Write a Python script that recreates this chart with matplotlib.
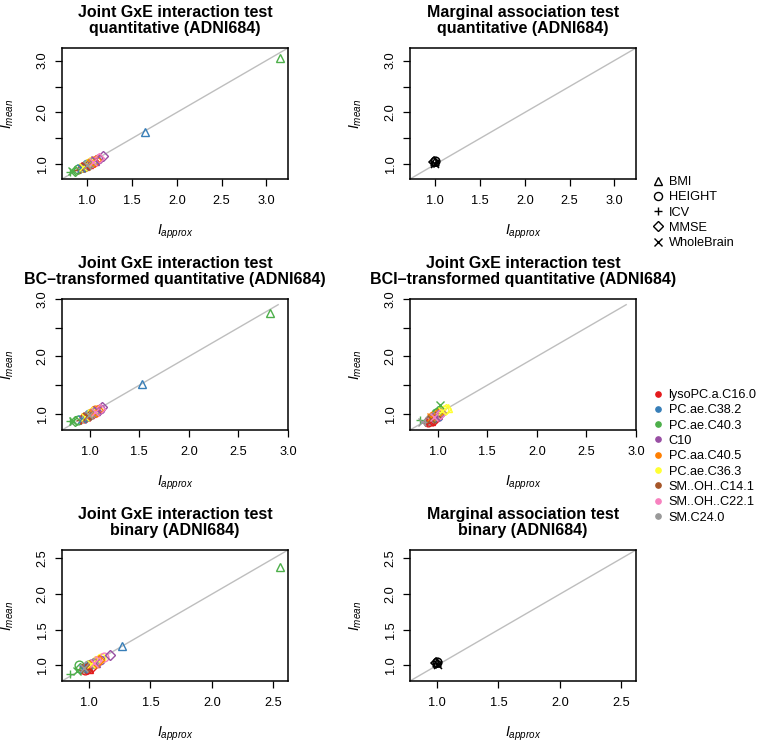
import numpy as np
import matplotlib
matplotlib.use('Agg')
import matplotlib.pyplot as plt
from matplotlib.lines import Line2D

plt.rcParams['font.family'] = ['Liberation Sans', 'DejaVu Sans']
plt.rcParams['mathtext.fontset'] = 'custom'
plt.rcParams['mathtext.rm'] = 'Liberation Sans'
plt.rcParams['mathtext.it'] = 'Liberation Sans:italic'

traits = ['BMI', 'HEIGHT', 'ICV', 'MMSE', 'WholeBrain']
trait_markers = ['^', 'o', '+', 'D', 'x']
metabolites = ['lysoPC.a.C16.0', 'PC.ae.C38.2', 'PC.ae.C40.3', 'C10', 'PC.aa.C40.5',
               'PC.ae.C36.3', 'SM..OH..C14.1', 'SM..OH..C22.1', 'SM.C24.0']
met_colors = ['#E41A1C', '#377EB8', '#4DAF4A', '#984EA3', '#FF7F00',
              '#FFFF33', '#A65628', '#F781BF', '#999999']

# joint GxE, quantitative: rows = traits, columns = metabolites
quant_x = [[1.02, 1.64, 3.15, 1.08, 1.05, 0.98, 1.00, 1.03, 0.97],
           [0.95, 1.00, 0.90, 1.12, 1.06, 1.02, 0.96, 1.04, 0.99],
           [0.92, 0.97, 0.81, 1.05, 1.01, 0.94, 0.90, 0.99, 0.93],
           [1.07, 0.99, 0.86, 1.17, 1.10, 1.03, 1.02, 1.13, 1.05],
           [0.97, 0.93, 0.83, 1.09, 1.04, 0.95, 0.98, 1.06, 1.00]]
quant_y = [[1.01, 1.62, 3.05, 1.07, 1.05, 0.99, 1.00, 1.02, 0.97],
           [0.94, 1.00, 0.91, 1.11, 1.07, 1.02, 0.95, 1.04, 0.98],
           [0.90, 0.96, 0.86, 1.04, 1.02, 0.93, 0.89, 0.98, 0.92],
           [1.05, 0.98, 0.88, 1.16, 1.09, 1.04, 1.00, 1.12, 1.04],
           [0.96, 0.92, 0.87, 1.08, 1.03, 0.94, 0.97, 1.05, 0.99]]

# joint GxE, BC-transformed
bc_x = [[1.00, 1.53, 2.82, 1.06, 1.04, 0.97, 0.99, 1.02, 0.96],
        [0.94, 0.99, 0.88, 1.10, 1.05, 1.01, 0.95, 1.03, 0.98],
        [0.91, 0.96, 0.80, 1.03, 1.00, 0.93, 0.90, 0.98, 0.92],
        [1.05, 0.98, 0.85, 1.12, 1.08, 1.02, 1.01, 1.10, 1.04],
        [0.96, 0.92, 0.83, 1.07, 1.03, 0.95, 0.97, 1.05, 0.99]]
bc_y = [[0.99, 1.52, 2.75, 1.05, 1.04, 0.98, 0.99, 1.01, 0.96],
        [0.93, 0.99, 0.89, 1.09, 1.06, 1.01, 0.94, 1.03, 0.97],
        [0.89, 0.95, 0.88, 1.02, 1.01, 0.92, 0.89, 0.97, 0.91],
        [1.04, 0.97, 0.87, 1.12, 1.07, 1.03, 0.99, 1.09, 1.03],
        [0.95, 0.91, 0.88, 1.06, 1.02, 0.94, 0.96, 1.04, 0.98]]

# joint GxE, BCI-transformed
bci_x = [[0.93, 0.99, 1.02, 1.00, 0.98, 1.10, 0.95, 0.97, 0.94],
         [0.90, 0.96, 0.98, 0.97, 0.95, 1.06, 0.92, 0.99, 0.91],
         [0.88, 0.92, 0.82, 0.94, 0.96, 1.02, 0.89, 0.93, 0.87],
         [0.96, 1.01, 1.00, 1.03, 1.00, 1.08, 0.97, 1.02, 0.95],
         [0.91, 0.94, 1.02, 0.98, 0.93, 1.04, 0.93, 0.96, 0.84]]
bci_y = [[0.87, 0.97, 1.08, 0.98, 0.99, 1.10, 0.93, 0.95, 0.92],
         [0.86, 0.95, 1.02, 0.94, 0.97, 1.07, 0.90, 0.98, 0.90],
         [0.85, 0.90, 0.90, 0.91, 0.97, 1.04, 0.88, 0.92, 0.86],
         [0.90, 1.00, 1.05, 1.01, 1.02, 1.09, 0.95, 1.00, 0.94],
         [0.86, 0.93, 1.15, 0.95, 0.95, 1.05, 0.91, 0.94, 0.86]]

# joint GxE, binary
bin_x = [[1.00, 1.27, 2.55, 1.06, 1.05, 1.04, 0.99, 1.03, 0.98],
         [0.97, 1.02, 0.92, 1.09, 1.07, 1.10, 0.96, 1.12, 0.99],
         [0.99, 0.97, 0.85, 1.03, 1.01, 1.00, 0.94, 1.00, 0.95],
         [1.02, 1.00, 0.93, 1.17, 1.08, 1.05, 1.01, 1.06, 1.03],
         [1.00, 0.95, 0.90, 1.05, 1.03, 1.02, 0.97, 1.04, 0.96]]
bin_y = [[0.95, 1.27, 2.38, 1.04, 1.04, 1.05, 0.98, 1.03, 0.98],
         [0.93, 1.02, 1.00, 1.07, 1.06, 1.11, 0.96, 1.12, 1.00],
         [0.94, 0.97, 0.88, 1.02, 1.01, 1.01, 0.94, 1.00, 0.95],
         [0.97, 1.00, 0.96, 1.15, 1.07, 1.06, 1.00, 1.06, 1.03],
         [0.96, 0.95, 0.92, 1.04, 1.02, 1.02, 0.97, 1.03, 0.96]]

# marginal association: one value per trait
marg_quant_x = [1.00, 1.00, 1.01, 0.99, 1.00]
marg_quant_y = [1.04, 1.06, 1.02, 1.05, 1.00]
marg_bin_x = [1.00, 1.00, 1.00, 0.99, 1.01]
marg_bin_y = [1.03, 1.05, 1.02, 1.04, 1.01]

ticks_q = [1.0, 1.5, 2.0, 2.5, 3.0]
ylab_q = ['1.0', '', '2.0', '', '3.0']
ticks_b = [1.0, 1.5, 2.0, 2.5]
ylab_b = ['1.0', '1.5', '2.0', '2.5']

titles = ['Joint GxE interaction test\nquantitative (ADNI684)',
          'Marginal association test\nquantitative (ADNI684)',
          'Joint GxE interaction test\nBC\u2013transformed quantitative (ADNI684)',
          'Joint GxE interaction test\nBCI\u2013transformed quantitative (ADNI684)',
          'Joint GxE interaction test\nbinary (ADNI684)',
          'Marginal association test\nbinary (ADNI684)']

W, H = 760, 743
fig = plt.figure(figsize=(W / 100, H / 100), dpi=100)


def lims_of(xs, ys):
    vals = np.concatenate([np.ravel(xs), np.ravel(ys)])
    lo, hi = vals.min(), vals.max()
    pad = 0.04 * (hi - lo)
    return lo - pad, hi + pad


def make_axes(left, top, title, lims, ticks, ylabels):
    ax = fig.add_axes([left / W, 1 - (top + 131) / H, 226 / W, 131 / H])
    ax.set_xlim(lims)
    ax.set_ylim(lims)
    ax.plot(lims, lims, color='#BEBEBE', lw=1.0, zorder=1)
    ax.set_xticks(ticks)
    ax.set_xticklabels(['%.1f' % t for t in ticks])
    ax.set_yticks(ticks)
    ax.set_yticklabels(ylabels, rotation=90, va='center')
    ax.tick_params(direction='out', length=5.2, width=0.9, labelsize=9.2)
    ax.tick_params(axis='x', pad=6.5)
    ax.tick_params(axis='y', pad=4.5)
    for s in ax.spines.values():
        s.set_linewidth(1.1)
    ax.set_title(title, fontsize=11.5, fontweight='bold', pad=10.5, linespacing=1.1)
    ax.set_xlabel(r'$I_{approx}$', fontsize=10.2)
    ax.set_ylabel(r'$I_{mean}$', fontsize=10.2)
    ax.xaxis.set_label_coords(0.5, -0.33)
    ax.yaxis.set_label_coords(-0.205, 0.5)
    return ax


def draw_joint(ax, xs, ys):
    for i in range(len(traits)):
        for j in range(len(metabolites)):
            ax.plot(xs[i][j], ys[i][j], linestyle='none', marker=trait_markers[i],
                    ms=5.2 if trait_markers[i] == 'D' else 6.3, mfc='none',
                    mec=met_colors[j], mew=1.0, zorder=2)


def draw_marginal(ax, xs, ys):
    for i in range(len(traits)):
        ax.plot(xs[i], ys[i], linestyle='none', marker=trait_markers[i],
                ms=5.2 if trait_markers[i] == 'D' else 6.3, mfc='none',
                mec='black', mew=1.1, zorder=2)


lims_q = lims_of(quant_x, quant_y)
lims_bc = lims_of(bc_x, bc_y)
lims_b = lims_of(bin_x, bin_y)

ax1 = make_axes(62, 48, titles[0], lims_q, ticks_q, ylab_q)
draw_joint(ax1, quant_x, quant_y)
ax2 = make_axes(410, 48, titles[1], lims_q, ticks_q, ylab_q)
draw_marginal(ax2, marg_quant_x, marg_quant_y)
ax3 = make_axes(62, 299, titles[2], lims_bc, ticks_q, ylab_q)
draw_joint(ax3, bc_x, bc_y)
ax4 = make_axes(410, 299, titles[3], lims_bc, ticks_q, ylab_q)
draw_joint(ax4, bci_x, bci_y)
ax5 = make_axes(62, 550, titles[4], lims_b, ticks_b, ylab_b)
draw_joint(ax5, bin_x, bin_y)
ax6 = make_axes(410, 550, titles[5], lims_b, ticks_b, ylab_b)
draw_marginal(ax6, marg_bin_x, marg_bin_y)

shape_handles = [Line2D([], [], linestyle='none', marker=m, mfc='none', mec='black',
                        mew=1.0, ms=4.8 if m == 'D' else 5.8) for m in trait_markers]
fig.legend(shape_handles, traits, loc='upper left', bbox_to_anchor=(652 / W, 1 - 176 / H),
           frameon=False, fontsize=9.2, handlelength=0.9, handletextpad=0.4,
           labelspacing=0.26, borderpad=0, borderaxespad=0)

color_handles = [Line2D([], [], linestyle='none', marker='o', mfc=c, mec=c, ms=3.8)
                 for c in met_colors]
fig.legend(color_handles, metabolites, loc='upper left', bbox_to_anchor=(652 / W, 1 - 389 / H),
           frameon=False, fontsize=9.2, handlelength=0.9, handletextpad=0.4,
           labelspacing=0.26, borderpad=0, borderaxespad=0)

fig.savefig('out.png', dpi=100)
